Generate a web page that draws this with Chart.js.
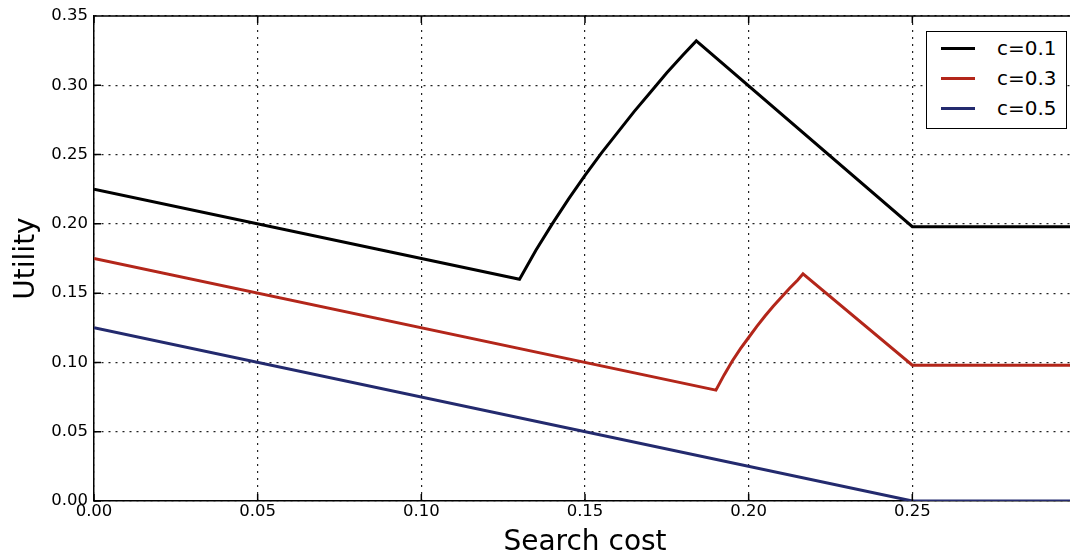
<!DOCTYPE html>
<html>
<head>
<meta charset="utf-8">
<script src="https://cdn.jsdelivr.net/npm/chart.js@4.4.1/dist/chart.umd.min.js"></script>
<style>
  html, body { margin: 0; padding: 0; background: #fff; overflow: hidden; }
  #wrap { position: relative; width: 1076px; height: 560px; }
  #legend {
    position: absolute; left: 926px; top: 31px; width: 139px; height: 96px;
    border: 1.5px solid #000; background: #fff;
    font-family: "DejaVu Sans", sans-serif; font-size: 20px; color: #000;
  }
  #legend .row { position: absolute; left: 0; height: 30px; line-height: 30px; }
  #legend .swatch { position: absolute; left: 14px; top: 14px; width: 34px; height: 3px; }
  #legend .txt { position: absolute; left: 70px; top: 0; white-space: nowrap; }
</style>
</head>
<body>
<div id="wrap">
  <canvas id="chart"></canvas>
  <div id="legend"></div>
</div>
<script>
// --- data ---
const seriesNames = ["c=0.1", "c=0.3", "c=0.5"];
const seriesColors = ["#000000", "#b3261a", "#232a6e"];

const costC01 = [0, 0.13, 0.135, 0.14, 0.145, 0.15, 0.155, 0.16, 0.165, 0.17, 0.175, 0.18, 0.184, 0.25, 0.30];
const utilC01 = [0.225, 0.160, 0.181, 0.200, 0.218, 0.235, 0.251, 0.266, 0.281, 0.295, 0.309, 0.322, 0.332, 0.198, 0.198];

const costC03 = [0, 0.19, 0.1925, 0.195, 0.1975, 0.20, 0.2025, 0.205, 0.2075, 0.21, 0.2125, 0.215, 0.2166, 0.25, 0.30];
const utilC03 = [0.175, 0.080, 0.091, 0.101, 0.110, 0.118, 0.126, 0.1335, 0.1405, 0.147, 0.1535, 0.1595, 0.164, 0.098, 0.098];

const costC05 = [0, 0.25, 0.30];
const utilC05 = [0.125, 0.0, 0.0];

const xTicks = [0, 0.05, 0.10, 0.15, 0.20, 0.25];
const yTicks = [0, 0.05, 0.10, 0.15, 0.20, 0.25, 0.30, 0.35];

function toPoints(xs, ys) {
  return xs.map((x, i) => ({ x, y: ys[i] }));
}

const allSeries = [
  toPoints(costC01, utilC01),
  toPoints(costC03, utilC03),
  toPoints(costC05, utilC05),
];

// --- legend (html) ---
const legendEl = document.getElementById("legend");
seriesNames.forEach((name, i) => {
  const row = document.createElement("div");
  row.className = "row";
  row.style.top = (1 + i * 30) + "px";
  row.style.width = "139px";
  row.innerHTML = `<span class="swatch" style="background:${seriesColors[i]}"></span><span class="txt">${name}</span>`;
  legendEl.appendChild(row);
});

// inward ticks + top spine, like the original plot
const frameTicks = {
  id: "frameTicks",
  afterDraw(chart) {
    const { ctx, chartArea: a, scales } = chart;
    const len = 7;
    ctx.save();
    ctx.strokeStyle = "#000";
    ctx.lineWidth = 1.5;
    ctx.beginPath();
    ctx.moveTo(a.left, a.top);
    ctx.lineTo(a.right, a.top);
    xTicks.forEach((v) => {
      const px = scales.x.getPixelForValue(v);
      ctx.moveTo(px, a.bottom);
      ctx.lineTo(px, a.bottom - len);
      ctx.moveTo(px, a.top);
      ctx.lineTo(px, a.top + len);
    });
    yTicks.forEach((v) => {
      const py = scales.y.getPixelForValue(v);
      ctx.moveTo(a.left, py);
      ctx.lineTo(a.left + len, py);
    });
    ctx.stroke();
    ctx.restore();
  },
};

const tickFont = { family: "DejaVu Sans", size: 16.5 };
const titleFont = { family: "DejaVu Sans", size: 28 };

new Chart(document.getElementById("chart"), {
  type: "line",
  data: {
    datasets: allSeries.map((pts, i) => ({
      label: seriesNames[i],
      data: pts,
      borderColor: seriesColors[i],
      backgroundColor: seriesColors[i],
      borderWidth: 3,
      pointRadius: 0,
      tension: 0,
      fill: false,
      order: 3 - i,
    })),
  },
  options: {
    responsive: true,
    maintainAspectRatio: false,
    animation: false,
    layout: { padding: { top: 16, right: 0, left: 0, bottom: 0 } },
    plugins: { legend: { display: false }, tooltip: { enabled: false } },
    scales: {
      x: {
        type: "linear",
        min: 0,
        max: 0.3,
        afterFit(scale) { scale.height = 59; },
        afterBuildTicks(scale) { scale.ticks = xTicks.map((v) => ({ value: v })); },
        ticks: { color: "#000", font: tickFont, padding: 1, maxRotation: 0, callback: (v) => v.toFixed(2) },
        grid: { color: "#222", lineWidth: 1.2, drawTicks: false },
        border: { display: true, color: "#000", width: 1.5, dash: [2, 5] },
        title: { display: true, text: "Search cost", color: "#000", font: titleFont, padding: { top: 0, bottom: 0 } },
      },
      y: {
        min: 0,
        max: 0.35,
        afterFit(scale) { scale.width = 94; },
        afterBuildTicks(scale) { scale.ticks = yTicks.map((v) => ({ value: v })); },
        ticks: { color: "#000", font: tickFont, padding: 6, callback: (v) => v.toFixed(2) },
        grid: { color: "#222", lineWidth: 1.2, drawTicks: false },
        border: { display: true, color: "#000", width: 1.5, dash: [2, 5] },
        title: { display: true, text: "Utility", color: "#000", font: titleFont, padding: { top: 10, bottom: 0 } },
      },
    },
  },
  plugins: [frameTicks],
});
</script>
</body>
</html>
